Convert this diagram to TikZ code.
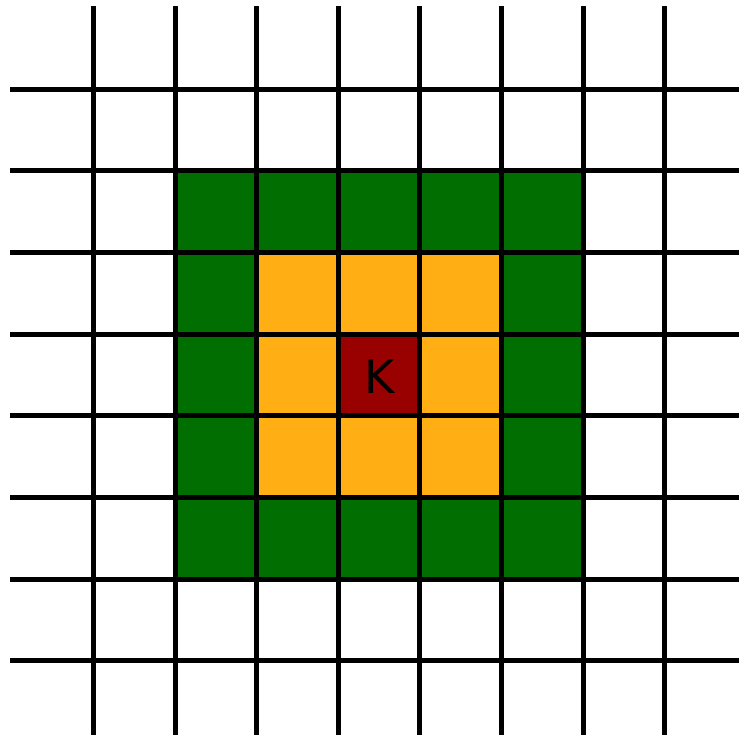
\documentclass[tikz,border=0pt]{standalone}
\usepackage{fontspec}
\setmainfont{DejaVu Sans}
\definecolor{cgreen}{RGB}{0,110,0}
\definecolor{corange}{RGB}{255,175,20}
\definecolor{cred}{RGB}{153,0,0}
\begin{document}
\begin{tikzpicture}[x=1pt,y=-1pt,
  gridline/.style={line width=5pt,black},
  cell/.style={draw=none}]
\useasboundingbox (0,0) rectangle (739,740);
\def\dx{81.6}
\def\dy{81.7}
\def\xo{93.5}
\def\yo{89}
% fills
\fill[cgreen] ({\xo+\dx},{\yo+\dy}) rectangle ({\xo+6*\dx},{\yo+6*\dy});
\fill[corange] ({\xo+2*\dx},{\yo+2*\dy}) rectangle ({\xo+5*\dx},{\yo+5*\dy});
\fill[cred] ({\xo+3*\dx},{\yo+3*\dy}) rectangle ({\xo+4*\dx},{\yo+4*\dy});
\node[font=\fontsize{46}{46}\selectfont, text=black] (k) at ({\xo+3.5*\dx},{\yo+3.5*\dy+2}) {K};
% grid
\foreach \i in {0,...,7}{
  \draw[gridline] ({\xo+\i*\dx},6) -- ({\xo+\i*\dx},735);
  \draw[gridline] (10,{\yo+\i*\dy}) -- (739,{\yo+\i*\dy});
}
\end{tikzpicture}
\end{document}
